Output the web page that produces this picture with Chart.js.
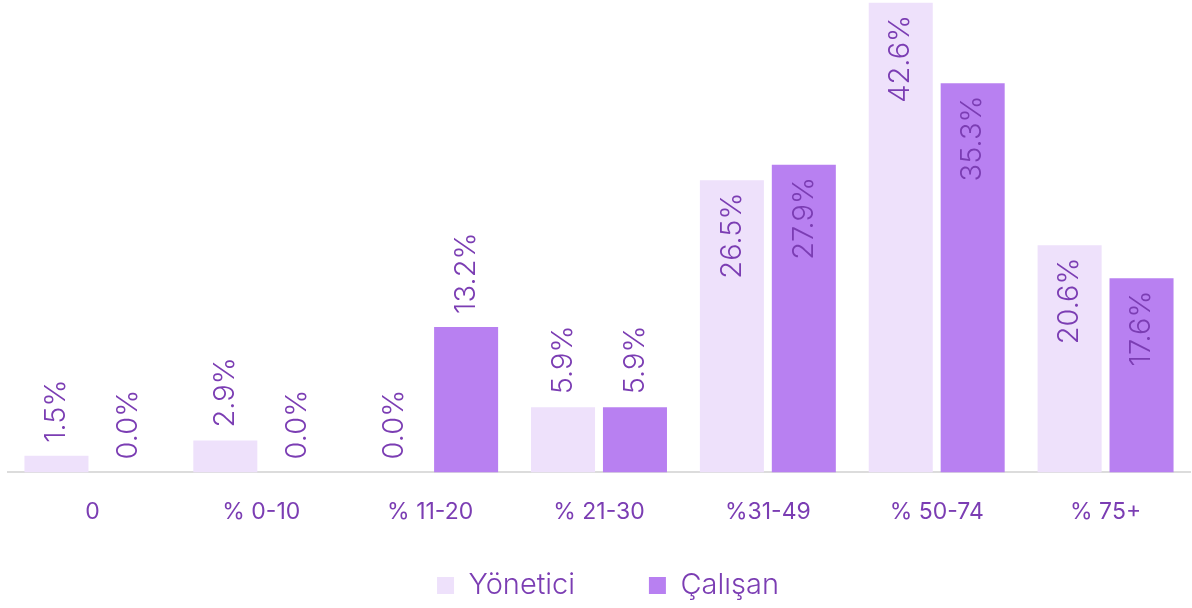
<!DOCTYPE html>
<html>
<head>
<meta charset="utf-8">
<script src="https://cdn.jsdelivr.net/npm/chart.js@4"></script>
<style>
html,body{margin:0;padding:0;background:#fff;}
#wrap{width:1192px;height:608px;position:relative;}
</style>
</head>
<body>
<div id="wrap"><canvas id="c" width="1192" height="608"></canvas></div>
<script>
const categories = ["0", "% 0-10", "% 11-20", "% 21-30", "%31-49", "% 50-74", "% 75+"];
const seriesNames = ["Yönetici", "Çalışan"];
const yonetici = [1.5, 2.9, 0.0, 5.9, 26.5, 42.6, 20.6];
const calisan = [0.0, 0.0, 13.2, 5.9, 27.9, 35.3, 17.6];
const TEXT = "#7b3db3";
const FONT = "Inter";

const labelPlugin = {
  id: "vlabels",
  afterLayout(chart) {
    if (chart.legend) { chart.legend.left += 9; chart.legend.right += 9; }
  },
  afterDatasetsDraw(chart) {
    const ctx = chart.ctx;
    ctx.save();
    ctx.font = "300 29px " + FONT;
    ctx.fillStyle = TEXT;
    ctx.textBaseline = "middle";
    chart.data.datasets.forEach((ds, di) => {
      const meta = chart.getDatasetMeta(di);
      meta.data.forEach((bar, i) => {
        const txt = ds.data[i].toFixed(1) + "%";
        const w = ctx.measureText(txt).width;
        const h = bar.base - bar.y;
        const inside = h > w + 100;
        ctx.save();
        ctx.translate(bar.x, inside ? bar.y + 12 : bar.y - 13);
        ctx.rotate(-Math.PI / 2);
        ctx.textAlign = inside ? "right" : "left";
        ctx.fillText(txt, 0, 0);
        ctx.restore();
      });
    });
    ctx.restore();
  }
};

new Chart(document.getElementById("c"), {
  type: "bar",
  data: {
    labels: categories,
    datasets: [
      { label: seriesNames[0], data: yonetici, backgroundColor: "#eee1fb" },
      { label: seriesNames[1], data: calisan, backgroundColor: "#b880f1" }
    ]
  },
  options: {
    responsive: false,
    animation: false,
    devicePixelRatio: 1,
    layout: { padding: { left: 8, right: 2, top: 0, bottom: -2 } },
    datasets: { bar: { categoryPercentage: 0.852, barPercentage: 0.89 } },
    scales: {
      x: {
        grid: { display: false, drawTicks: false },
        border: { display: true, color: "#dcdcdc", width: 2 },
        ticks: { color: TEXT, font: { family: FONT, size: 23 }, padding: 26 },
        afterFit(axis) { axis.height -= 21; }
      },
      y: { display: false, min: 0, max: 42.85 }
    },
    plugins: {
      legend: {
        position: "bottom",
        labels: {
          color: TEXT, font: { family: FONT, size: 29, weight: 300 }, boxWidth: 17, boxHeight: 17, padding: 40,
          generateLabels(chart) {
            const items = Chart.defaults.plugins.legend.labels.generateLabels(chart);
            items.forEach((it, i) => { it.fontColor = TEXT; if (i < items.length - 1) it.text = it.text + "\u2003\u2006"; });
            return items;
          }
        }
      },
      tooltip: { enabled: false }
    }
  },
  plugins: [labelPlugin]
});
</script>
</body>
</html>
